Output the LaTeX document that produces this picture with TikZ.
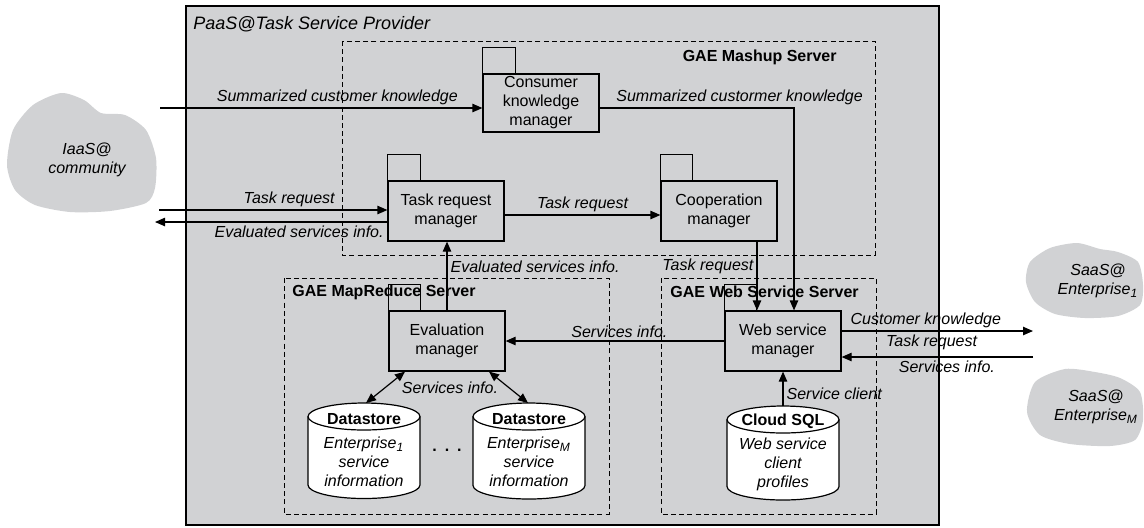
\documentclass[tikz,border=0pt]{standalone}
\usepackage{fontspec}
\setmainfont{Liberation Sans}
\usetikzlibrary{arrows.meta,positioning}
\definecolor{paasgray}{HTML}{D1D2D4}
\tikzset{
  mgr/.style={draw, line width=0.6pt, fill=paasgray, minimum width=58pt,
              minimum height=30pt, align=center, inner sep=0pt,
              font=\fontsize{8}{9.5}\selectfont},
  mgrtab/.style={draw, line width=0.6pt},
  server/.style={draw, dash pattern=on 2.5pt off 1.6pt, line width=0.5pt},
  srvlabel/.style={font=\fontsize{8}{9.5}\selectfont\bfseries, inner sep=0pt},
  flowlabel/.style={font=\fontsize{8}{9.5}\selectfont\itshape, inner sep=1.5pt},
  flow/.style={-{Triangle[length=5pt,width=4.2pt]}, line width=0.6pt},
  dflow/.style={{Triangle[length=5pt,width=4.2pt]}-{Triangle[length=5pt,width=4.2pt]}, line width=0.6pt},
  dbcyl/.style={draw, line width=0.6pt, fill=white},
  cylend/.style={x radius=28pt, y radius=6.75pt},
  cloudtext/.style={font=\fontsize{8}{9.5}\selectfont\itshape, align=center, inner sep=0pt},
}

\begin{document}
\begin{tikzpicture}[x=0.5pt, y=-0.5pt]
  \useasboundingbox (0,0) rectangle (1144,527);

  % clouds
  \fill[paasgray] plot[smooth cycle, tension=0.45] coordinates {(61,93) (84,100) (101,113) (125,115) (146,130) (156,158) (155,188) (146,203) (110,211) (70,212) (35,205) (15,190) (7,165) (13,130) (33,105)};
  \node[cloudtext] (iaas) at (87,160) {IaaS@\\community};
  \fill[paasgray] plot[smooth cycle, tension=0.45] coordinates {(1030,262) (1050,248) (1077,243) (1100,249) (1118,252) (1138,262) (1143,285) (1140,305) (1118,316) (1085,318) (1055,314) (1035,302) (1026,282)};
  \node[cloudtext] (saas1) at (1098,281) {SaaS@\\Enterprise\textsubscript{1}};
  \fill[paasgray] plot[smooth cycle, tension=0.45] coordinates {(1035,382) (1065,369) (1095,372) (1120,378) (1140,392) (1143,420) (1135,440) (1110,446) (1070,444) (1040,435) (1027,412)};
  \node[cloudtext] (saasm) at (1096,407) {SaaS@\\Enterprise\textsubscript{M}};

  % provider and servers
  \draw[fill=paasgray, line width=0.9pt] (186,6) rectangle (939,525);
  \node[anchor=west, font=\fontsize{9}{11}\selectfont\itshape, inner sep=0pt] (paas) at (193,24) {PaaS@Task Service Provider};
  \draw[server] (342,41) rectangle (875,255);
  \node[srvlabel, anchor=east] (mashup) at (837,57) {GAE Mashup Server};
  \draw[server] (284,278) rectangle (609,514);
  \node[srvlabel, anchor=west] (mapred) at (292,292) {GAE MapReduce Server};
  \draw[server] (661,278) rectangle (876,514);
  \node[srvlabel, anchor=west] (websrv) at (670,292) {GAE Web Service Server};

  % managers
  \node[mgr, minimum height=29pt] (ckm) at (541,103) {Consumer\\knowledge\\manager};
  \node[mgr] (trm) at (446,211) {Task request\\manager};
  \node[mgr] (cm) at (719,211) {Cooperation\\manager};
  \node[mgr] (em) at (447,341) {Evaluation\\manager};
  \node[mgr] (wsm) at (783,341) {Web service\\manager};
  \draw[mgrtab] (ckm.north west) rectangle ++(33,-26);
  \draw[mgrtab] (trm.north west) rectangle ++(33,-26);
  \draw[mgrtab] (cm.north west) rectangle ++(32,-26);
  \draw[mgrtab] (em.north west) rectangle ++(32,-26);
  \draw[mgrtab] (wsm.north west) rectangle ++(32,-26);

  % data stores
  \draw[dbcyl] (308,416.5) -- (308,485) arc[start angle=180, end angle=360, cylend] -- (420,416.5) arc[start angle=0, end angle=180, cylend] -- cycle;
  \draw[line width=0.6pt] (308,416.5) arc[start angle=180, end angle=360, cylend];
  \coordinate (ds1) at (364,403);
  \node[srvlabel] (ds1t) at (364,419) {Datastore};
  \node[cloudtext] (ds1b) at (364,462) {Enterprise\textsubscript{1}\\service\\information};
  \draw[dbcyl] (473,416.5) -- (473,485.5) arc[start angle=180, end angle=360, cylend] -- (585,416.5) arc[start angle=0, end angle=180, cylend] -- cycle;
  \draw[line width=0.6pt] (473,416.5) arc[start angle=180, end angle=360, cylend];
  \coordinate (dsm) at (529,403);
  \node[srvlabel] (dsmt) at (529,419) {Datastore};
  \node[cloudtext] (dsmb) at (529,462) {Enterprise\textsubscript{M}\\service\\information};
  \node[font=\fontsize{8}{9.5}\selectfont\bfseries] (dots) at (447,450) {.\,\,\,.\,\,\,.};
  \draw[dbcyl] (727,419.5) -- (727,486.5) arc[start angle=180, end angle=360, cylend] -- (839,419.5) arc[start angle=0, end angle=180, cylend] -- cycle;
  \draw[line width=0.6pt] (727,419.5) arc[start angle=180, end angle=360, cylend];
  \coordinate (sql) at (783,406);
  \node[srvlabel] (sqlt) at (783,421) {Cloud SQL};
  \node[cloudtext] (sqlb) at (783,464) {Web service\\client\\profiles};

  % flows
  \coordinate (sumin) at (160,108);
  \draw[flow] (sumin) -- (sumin -| ckm.west) node[flowlabel, above, pos=0.55] {Summarized customer knowledge};
  \draw[flow] ([yshift=-2.5pt]ckm.east) -| ([xshift=5.5pt]wsm.north) node[flowlabel, above, pos=0.36] {Summarized custormer knowledge};
  \coordinate (taskin) at (159,210);
  \draw[flow] (taskin) -- (taskin -| trm.west) node[flowlabel, above, pos=0.57] {Task request};
  \coordinate (evalout) at (155,222);
  \draw[flow] (evalout -| trm.west) -- (evalout) node[flowlabel, below, pos=0.38] {Evaluated services info.};
  \draw[flow] ([yshift=-2pt]trm.east) -- ([yshift=-2pt]cm.west) node[flowlabel, above, midway] {Task request};
  \draw[flow] (em.north) -- (em.north |- trm.south) node[flowlabel, right, pos=0.64] {Evaluated services info.};
  \draw[flow] ([xshift=19pt]cm.south) -- ([xshift=19pt]cm.south |- wsm.north) node[flowlabel, left, pos=0.36] {Task request};
  \draw[flow] (wsm.west) -- (em.east) node[flowlabel, above, pos=0.48] {Services info.};
  \coordinate (saasout) at (1033,331);
  \draw[flow] (saasout -| wsm.east) -- (saasout) node[flowlabel, above, pos=0.44] {Customer knowledge} node[flowlabel, below, pos=0.47] {Task request};
  \coordinate (saasin) at (1033,357);
  \draw[flow] (saasin) -- (saasin -| wsm.east) node[flowlabel, below, pos=0.45] {Services info.};
  \draw[flow] (sql) -- (wsm.south) node[flowlabel, right, pos=0.37] {Service client};
  \draw[dflow] ([xshift=-21pt]em.south) -- ([xshift=1pt]ds1);
  \draw[dflow] ([xshift=21pt]em.south) -- ([xshift=-0.5pt]dsm);
  \node[flowlabel] (dsinfo) at (450,388) {Services info.};
\end{tikzpicture}
\end{document}
